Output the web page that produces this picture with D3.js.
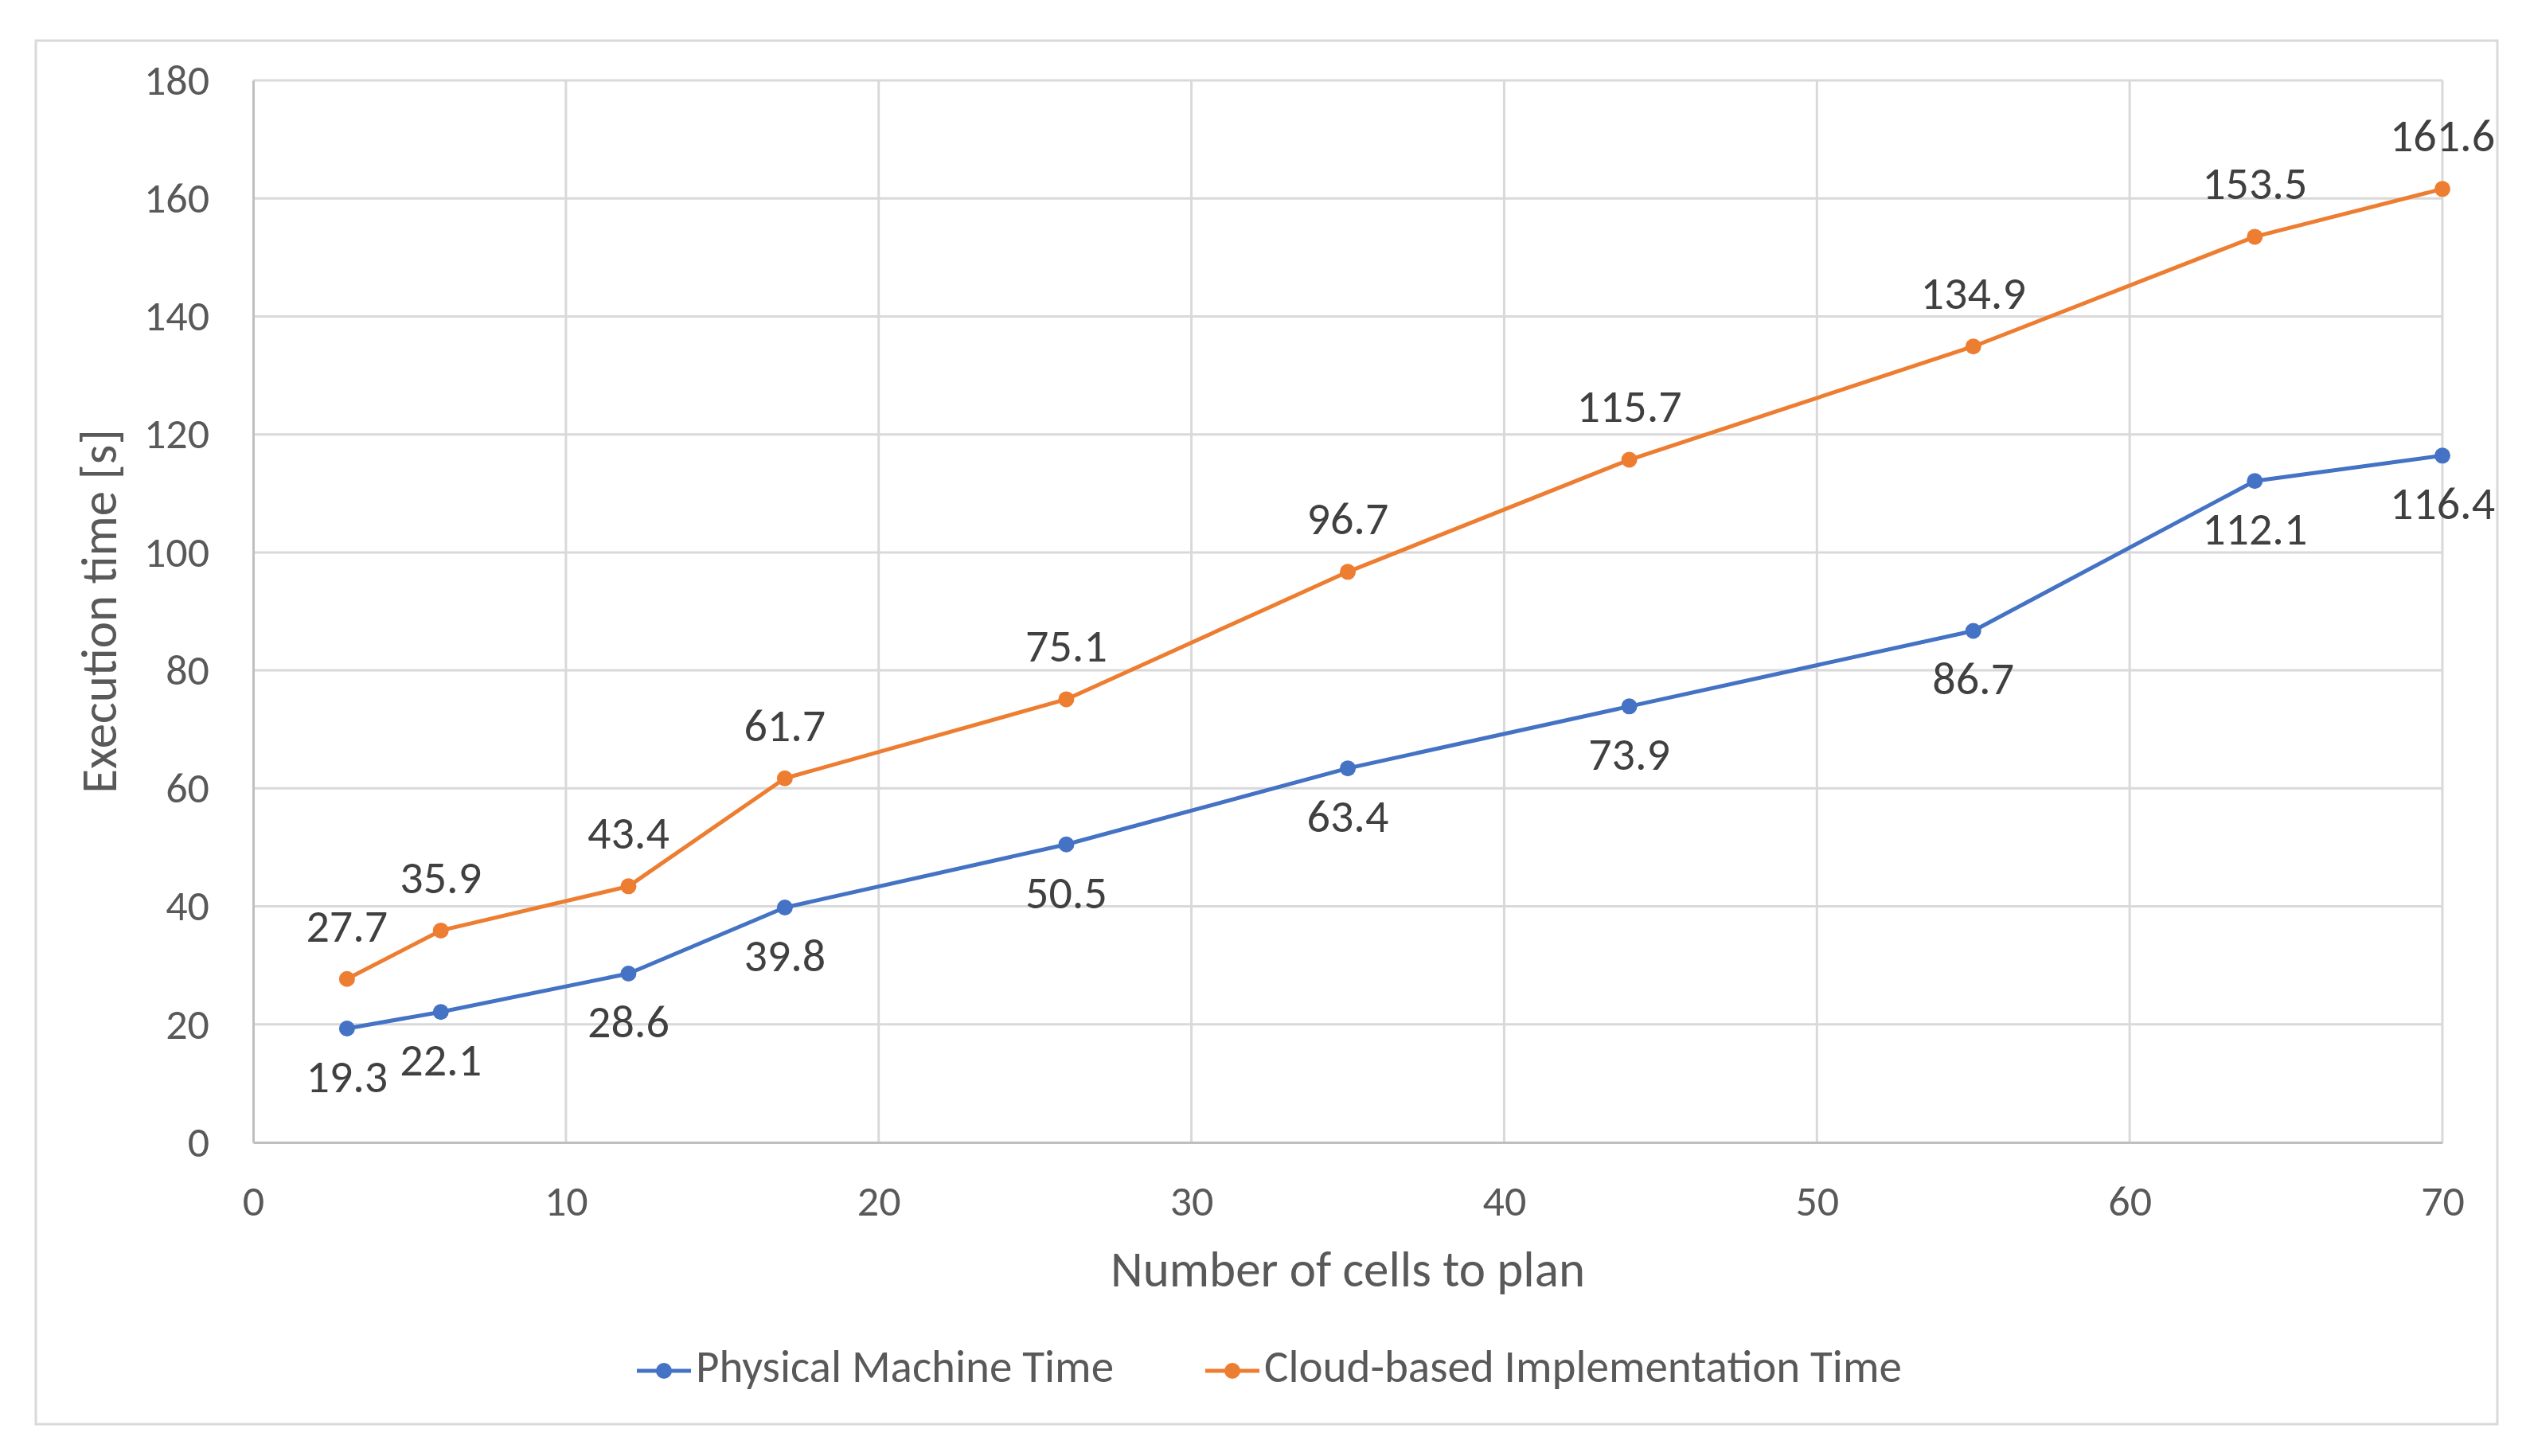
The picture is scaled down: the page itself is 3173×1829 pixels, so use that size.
<!DOCTYPE html>
<html>
<head>
<meta charset="utf-8">
<script src="https://cdn.jsdelivr.net/npm/d3@7"></script>
<style>
  body { margin: 0; background: #fff; }
  text { font-family: Carlito, "Liberation Sans Narrow", "Open Sans", sans-serif; }
</style>
</head>
<body>
<div id="chart"></div>
<script>
const cells = [3, 6, 12, 17, 26, 35, 44, 55, 64, 70];
const physicalTime = [19.3, 22.1, 28.6, 39.8, 50.5, 63.4, 73.9, 86.7, 112.1, 116.4];
const cloudTime = [27.7, 35.9, 43.4, 61.7, 75.1, 96.7, 115.7, 134.9, 153.5, 161.6];
const seriesNames = ["Physical Machine Time", "Cloud-based Implementation Time"];
const xTicks = [0, 10, 20, 30, 40, 50, 60, 70];
const yTicks = [0, 20, 40, 60, 80, 100, 120, 140, 160, 180];

const W = 3173, H = 1829;
const margin = { top: 101, right: 105, bottom: 394, left: 318 };
const width = W - margin.left - margin.right;
const height = H - margin.top - margin.bottom;

const colors = ["#4472C4", "#ED7D31"];

const svg = d3.select("#chart").append("svg")
    .attr("width", W)
    .attr("height", H);

// outer frame
svg.append("rect")
    .attr("x", 45).attr("y", 51)
    .attr("width", 3092).attr("height", 1738)
    .attr("fill", "none")
    .attr("stroke", "#D9D9D9")
    .attr("stroke-width", 3);

const g = svg.append("g")
    .attr("transform", "translate(" + margin.left + "," + margin.top + ")");

const x = d3.scaleLinear().domain([0, 70]).range([0, width]);
const y = d3.scaleLinear().domain([0, 180]).range([height, 0]);

// gridlines
g.append("g").selectAll("line")
    .data(yTicks.slice(1))
    .enter().append("line")
    .attr("x1", 0).attr("x2", width)
    .attr("y1", d => y(d)).attr("y2", d => y(d))
    .attr("stroke", "#D9D9D9").attr("stroke-width", 3);

g.append("g").selectAll("line")
    .data(xTicks.slice(1))
    .enter().append("line")
    .attr("y1", 0).attr("y2", height)
    .attr("x1", d => x(d)).attr("x2", d => x(d))
    .attr("stroke", "#D9D9D9").attr("stroke-width", 3);

// axes
const xAxis = g.append("g")
    .attr("transform", "translate(0," + height + ")")
    .call(d3.axisBottom(x).tickValues(xTicks).tickSize(0).tickPadding(54));
xAxis.select(".domain").attr("stroke", "#BFBFBF").attr("stroke-width", 3);

const yAxis = g.append("g")
    .call(d3.axisLeft(y).tickValues(yTicks).tickSize(0).tickPadding(55));
yAxis.select(".domain").attr("stroke", "#BFBFBF").attr("stroke-width", 3);

g.selectAll(".tick text")
    .attr("fill", "#595959")
    .style("font-size", "54px");

// axis titles
g.append("text")
    .attr("x", width / 2)
    .attr("y", height + 166)
    .attr("text-anchor", "middle")
    .attr("dominant-baseline", "middle")
    .attr("fill", "#595959")
    .style("font-size", "63px")
    .text("Number of cells to plan");

g.append("text")
    .attr("transform", "translate(" + (-187) + "," + (height / 2) + ") rotate(-90)")
    .attr("text-anchor", "middle")
    .attr("dominant-baseline", "middle")
    .attr("fill", "#595959")
    .style("font-size", "63px")
    .text("Execution time [s]");

const series = [
    { name: seriesNames[0], values: physicalTime, color: colors[0], labelDy: 66 },
    { name: seriesNames[1], values: cloudTime, color: colors[1], labelDy: -61 }
];

const line = d3.line()
    .x((d, i) => x(cells[i]))
    .y(d => y(d));

series.forEach(s => {
    g.append("path")
        .datum(s.values)
        .attr("d", line)
        .attr("fill", "none")
        .attr("stroke", s.color)
        .attr("stroke-width", 5)
        .attr("stroke-linejoin", "round");

    g.append("g").selectAll("circle")
        .data(s.values)
        .enter().append("circle")
        .attr("cx", (d, i) => x(cells[i]))
        .attr("cy", d => y(d))
        .attr("r", 10)
        .attr("fill", s.color);

    g.append("g").selectAll("text")
        .data(s.values)
        .enter().append("text")
        .attr("x", (d, i) => x(cells[i]))
        .attr("y", d => y(d) + s.labelDy)
        .attr("text-anchor", "middle")
        .attr("dominant-baseline", "middle")
        .attr("fill", "#404040")
        .style("font-size", "58px")
        .text(d => d.toFixed(1));
});

// legend
const legendX = [800, 1514];
const legend = svg.append("g");
series.forEach((s, i) => {
    const lg = legend.append("g").attr("transform", "translate(" + legendX[i] + ",1722)");
    lg.append("line")
        .attr("x1", 0).attr("x2", 68)
        .attr("stroke", s.color).attr("stroke-width", 5);
    lg.append("circle")
        .attr("cx", 34).attr("r", 10)
        .attr("fill", s.color);
    lg.append("text")
        .attr("x", 74)
        .attr("dominant-baseline", "middle")
        .attr("fill", "#595959")
        .style("font-size", "57px")
        .text(s.name);
});
</script>
</body>
</html>
